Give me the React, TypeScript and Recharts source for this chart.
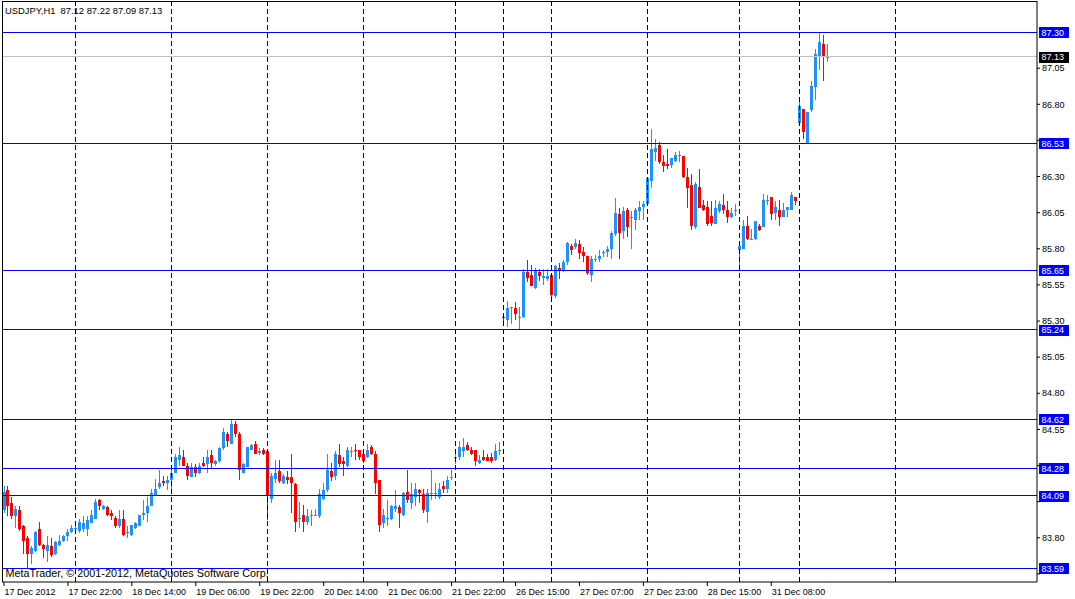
import React from 'react';
import { ComposedChart, Bar, XAxis, YAxis, ReferenceLine } from 'recharts';

// ---- data (USDJPY H1) ----
const opens = [
83.99,84.13,84.04,83.95,83.99,83.88,83.80,83.69,83.71,83.86,83.75,83.71,83.74,83.69,83.75,83.78,83.81,83.84,83.86,83.85,
83.86,83.86,83.90,83.93,84.06,84.00,84.01,83.97,83.94,83.88,83.93,83.83,83.82,83.87,83.88,83.96,83.97,84.02,84.09,84.15,
84.19,84.18,84.20,84.25,84.34,84.36,84.30,84.22,84.29,84.25,84.32,84.31,84.37,84.31,84.33,84.42,84.52,84.45,84.59,84.52,
84.25,84.29,84.41,84.45,84.39,84.41,84.40,84.07,84.21,84.26,84.18,84.22,84.22,84.17,83.93,83.96,83.91,83.95,83.95,83.95,
84.07,84.13,84.26,84.23,84.37,84.33,84.30,84.40,84.41,84.41,84.38,84.36,84.43,84.38,84.20,83.90,83.94,83.93,84.00,84.01,
83.96,84.12,84.04,84.08,84.13,84.10,83.98,84.10,84.10,84.08,84.16,84.14,84.22,84.36,84.36,84.40,84.44,84.41,84.41,84.32,
84.36,84.36,84.36,84.34,84.40,85.33,85.31,85.39,85.39,85.33,85.33,85.64,85.62,85.53,85.64,85.60,85.59,85.62,85.47,85.67,
85.65,85.71,85.82,85.81,85.83,85.78,85.75,85.62,85.72,85.73,85.77,85.78,85.80,85.90,86.04,85.92,86.07,86.01,86.00,86.06,
86.09,86.11,86.27,86.47,86.52,86.40,86.39,86.38,86.41,86.45,86.44,86.30,86.24,85.95,86.23,86.10,86.09,86.03,85.97,86.06,
86.10,86.07,86.02,86.06,85.79,85.80,85.96,85.86,85.87,85.96,85.95,86.13,86.16,86.05,86.07,86.02,86.07,86.07,86.16,86.67,
86.77,86.53,86.76,86.92,87.13,87.22,87.12];
const highs = [
84.16,84.16,84.08,84.02,84.02,83.89,83.81,83.74,83.85,83.91,83.76,83.81,83.80,83.78,83.82,83.82,83.86,83.89,83.90,83.93,
83.95,83.95,83.99,84.07,84.07,84.03,84.02,83.99,83.95,83.99,83.99,83.88,83.89,83.91,83.96,84.06,84.08,84.14,84.21,84.27,
84.23,84.23,84.27,84.38,84.43,84.41,84.32,84.32,84.31,84.32,84.36,84.41,84.41,84.34,84.43,84.56,84.53,84.62,84.61,84.53,
84.32,84.43,84.45,84.47,84.42,84.42,84.41,84.25,84.34,84.34,84.24,84.26,84.38,84.18,84.05,84.03,84.00,83.99,84.00,84.14,
84.18,84.38,84.32,84.40,84.45,84.36,84.43,84.43,84.45,84.41,84.41,84.45,84.44,84.40,84.20,84.00,84.06,84.03,84.13,84.03,
84.12,84.27,84.18,84.18,84.14,84.14,84.14,84.27,84.18,84.18,84.19,84.23,84.27,84.38,84.47,84.49,84.46,84.43,84.41,84.37,
84.41,84.38,84.39,84.45,84.46,85.35,85.44,85.40,85.43,85.40,85.66,85.72,85.69,85.67,85.66,85.66,85.66,85.62,85.69,85.70,
85.72,85.85,85.83,85.87,85.86,85.81,85.75,85.75,85.76,85.79,85.79,85.82,85.92,86.15,86.08,86.09,86.08,86.06,86.08,86.13,
86.13,86.29,86.63,86.56,86.54,86.45,86.49,86.43,86.47,86.48,86.44,86.36,86.32,86.26,86.35,86.14,86.13,86.13,86.14,86.13,
86.18,86.13,86.08,86.11,85.82,86.00,86.03,85.94,85.99,85.97,86.18,86.17,86.16,86.13,86.14,86.12,86.09,86.19,86.16,86.84,
86.77,86.75,86.96,87.18,87.30,87.28,87.22];
const lows = [
83.97,83.95,83.93,83.87,83.85,83.69,83.59,83.62,83.70,83.74,83.66,83.63,83.67,83.68,83.74,83.77,83.78,83.83,83.84,83.83,
83.84,83.81,83.90,83.93,83.99,83.99,83.95,83.92,83.87,83.87,83.81,83.80,83.81,83.86,83.88,83.92,83.91,84.02,84.09,84.14,
84.16,84.13,84.13,84.25,84.30,84.30,84.20,84.22,84.22,84.24,84.29,84.25,84.28,84.30,84.32,84.41,84.43,84.45,84.50,84.20,
84.25,84.29,84.41,84.38,84.37,84.37,83.92,84.04,84.18,84.18,84.17,84.17,83.97,83.84,83.87,83.84,83.89,83.88,83.95,83.94,
84.06,84.12,84.19,84.20,84.29,84.23,84.29,84.36,84.34,84.34,84.32,84.35,84.37,84.10,83.84,83.87,83.88,83.92,83.98,83.87,
83.95,84.04,84.00,84.02,84.04,83.97,83.90,84.06,84.07,84.07,84.11,84.11,84.20,84.31,84.34,84.36,84.40,84.37,84.30,84.31,
84.33,84.33,84.32,84.33,84.37,85.27,85.26,85.28,85.31,85.24,85.32,85.57,85.54,85.52,85.58,85.55,85.58,85.46,85.46,85.59,
85.64,85.69,85.76,85.80,85.73,85.71,85.62,85.57,85.71,85.71,85.74,85.74,85.73,85.89,85.73,85.87,85.88,85.80,85.93,86.00,
86.00,86.10,86.22,86.41,86.39,86.33,86.35,86.36,86.40,86.40,86.29,86.08,85.93,85.94,86.08,86.06,85.96,85.96,85.97,86.05,
86.04,85.98,86.01,86.03,85.65,85.80,85.86,85.86,85.86,85.92,85.95,86.10,86.00,86.00,85.96,86.02,86.02,86.07,86.10,86.67,
86.56,86.53,86.75,86.83,87.04,86.96,87.09];
const closes = [
84.12,84.02,83.95,84.00,83.86,83.78,83.69,83.73,83.84,83.75,83.72,83.75,83.68,83.77,83.78,83.81,83.84,83.87,83.87,83.91,
83.90,83.92,83.96,84.05,84.02,84.02,83.96,83.95,83.88,83.93,83.82,83.84,83.89,83.90,83.96,83.97,84.02,84.11,84.14,84.18,
84.18,84.20,84.25,84.36,84.37,84.30,84.23,84.29,84.25,84.30,84.30,84.36,84.32,84.33,84.42,84.53,84.47,84.59,84.52,84.27,
84.31,84.43,84.44,84.38,84.40,84.38,84.09,84.23,84.25,84.19,84.23,84.20,84.18,83.91,83.94,83.91,83.95,83.96,83.96,84.10,
84.13,84.27,84.22,84.38,84.31,84.31,84.41,84.40,84.40,84.36,84.33,84.41,84.38,84.18,83.89,83.96,83.94,84.02,84.02,83.97,
84.11,84.06,84.10,84.14,84.11,83.99,84.11,84.11,84.11,84.14,84.14,84.20,84.22,84.36,84.43,84.43,84.41,84.38,84.33,84.34,
84.34,84.33,84.33,84.40,84.41,85.32,85.39,85.40,85.35,85.33,85.64,85.60,85.54,85.65,85.61,85.61,85.61,85.48,85.68,85.65,
85.71,85.84,85.79,85.84,85.77,85.75,85.63,85.73,85.73,85.75,85.78,85.80,85.91,86.05,85.91,86.06,85.95,86.02,86.07,86.09,
86.11,86.29,86.49,86.50,86.40,86.37,86.37,86.43,86.45,86.45,86.30,86.22,85.96,86.25,86.08,86.07,85.97,85.98,86.08,86.11,
86.07,86.02,86.05,86.07,85.82,85.96,85.87,85.87,85.99,85.93,86.14,86.14,86.04,86.09,86.02,86.07,86.09,86.17,86.13,86.79,
86.61,86.75,86.93,87.15,87.23,87.13,87.13];

const TOTAL_SLOTS = 259; // bars + empty shift space on the right
const tickIdx = [0, 16, 32, 48, 64, 80, 96, 112, 128, 144, 160, 176, 192];
const tickLabels = ['17 Dec 2012', '17 Dec 22:00', '18 Dec 14:00', '19 Dec 06:00', '19 Dec 22:00', '20 Dec 14:00',
  '21 Dec 06:00', '21 Dec 22:00', '26 Dec 15:00', '27 Dec 07:00', '27 Dec 23:00', '28 Dec 15:00', '31 Dec 08:00'];
const separators = [18, 42, 66, 90, 113, 125, 137, 161, 184, 199, 223];
const priceTicks = [83.55, 83.80, 84.05, 84.30, 84.55, 84.80, 85.05, 85.30, 85.55, 85.80, 86.05, 86.30, 86.55, 86.80, 87.05];
const levels = [87.30, 86.53, 85.65, 85.24, 84.62, 84.28, 84.09, 83.59];
const bidPrice = 87.13;
const yDomain = [83.494, 87.515];

const data = Array.from({ length: TOTAL_SLOTS }, (_, i) => ({
  i,
  o: opens[i],
  h: highs[i],
  l: lows[i],
  c: closes[i],
}));

const FONT = '"Liberation Sans", Arial, sans-serif';
const BULL = '#1E90FF';
const BEAR = '#FF0000';

// price labels that sit under a level box are covered in the reference
const coveredByBox = (p: number) =>
  [...levels, bidPrice].some((lv) => Math.abs(lv - p) < 0.05);

const Candle = (props: any) => {
  const { x, y, width, height, payload } = props;
  if (!payload || payload.h == null || !isFinite(y) || !isFinite(height)) return null;
  const top = Math.min(y, y + height);
  const hpx = Math.abs(height);
  const { o, h, l, c } = payload;
  const span = h - l;
  const py = (p: number) => (span > 0 ? top + ((h - p) / span) * hpx : top);
  const cx = Math.round(x + width / 2) + 0.5;
  const up = c >= o;
  const col = up ? BULL : BEAR;
  const bTop = py(Math.max(o, c));
  const bBot = py(Math.min(o, c));
  return (
    <g shapeRendering="crispEdges">
      <line x1={cx} x2={cx} y1={top} y2={top + hpx} stroke={col} strokeWidth={1} />
      <rect x={cx - 1.5} y={bTop} width={3} height={Math.max(1, bBot - bTop)} fill={col} />
    </g>
  );
};

const XTick = (props: any) => {
  const { x, y, payload } = props;
  const k = tickIdx.indexOf(payload.value);
  if (k < 0) return null;
  return (
    <text x={x + 0.5} y={y} dy="0.75em" fontSize={9} fontFamily={FONT} fill="#000" textAnchor="start">
      {tickLabels[k]}
    </text>
  );
};

const YTick = (props: any) => {
  const { x, y, payload } = props;
  const v = Number(payload.value);
  if (coveredByBox(v)) return null;
  return (
    <text x={x} y={y + 3.2} fontSize={9} fontFamily={FONT} fill="#000" textAnchor="start">
      {v.toFixed(2)}
    </text>
  );
};

const LevelLabel = (props: any) => {
  const { viewBox, value, bg } = props;
  if (!viewBox) return null;
  const right = viewBox.x + viewBox.width;
  const vy = viewBox.y;
  return (
    <g>
      <rect x={right + 2} y={vy - 5} width={30} height={11} fill={bg} shapeRendering="crispEdges" />
      <text x={right + 4.5} y={vy + 3.5} fontSize={9} fontFamily={FONT} fill="#fff" textAnchor="start">
        {value}
      </text>
    </g>
  );
};

export default function App() {
  return (
    <div style={{ position: 'absolute', left: 0, top: 0, width: 1075, height: 599, background: '#fff' }}>
      <ComposedChart width={1075} height={599} data={data} margin={{ top: 1, right: 0, bottom: 0, left: 2 }}>
        <XAxis
          dataKey="i"
          type="category"
          ticks={tickIdx}
          interval={0}
          height={17}
          tickSize={4}
          tickMargin={2}
          axisLine={{ stroke: '#000' }}
          tickLine={{ stroke: '#000' }}
          tick={<XTick />}
        />
        <YAxis
          orientation="right"
          type="number"
          domain={yDomain}
          allowDataOverflow
          ticks={priceTicks}
          interval={0}
          width={38}
          tickSize={3}
          tickMargin={2}
          axisLine={{ stroke: '#000' }}
          tickLine={{ stroke: '#000' }}
          tick={<YTick />}
        />
        {separators.map((s) => (
          <ReferenceLine key={'s' + s} x={s} stroke="#000" strokeDasharray="5 3" shapeRendering="crispEdges" />
        ))}
        <ReferenceLine
          y={bidPrice}
          stroke="#C0C0C0"
          shapeRendering="crispEdges"
          label={<LevelLabel value={bidPrice.toFixed(2)} bg="#000" />}
        />
        {levels.map((lv) => (
          <ReferenceLine
            key={'l' + lv}
            y={lv}
            stroke="#0000FF"
            shapeRendering="crispEdges"
            label={<LevelLabel value={lv.toFixed(2)} bg="#0000FF" />}
          />
        ))}
        <Bar
          dataKey={(d: any) => (d.h == null ? null : [d.l, d.h])}
          barSize={3}
          shape={<Candle />}
          isAnimationActive={false}
        />
      </ComposedChart>
      <div
        style={{
          position: 'absolute', left: 2, top: 1, width: 1035, height: 581,
          borderLeft: '1px solid #000', borderTop: '1px solid #000', boxSizing: 'border-box', pointerEvents: 'none',
        }}
      />
      <div style={{ position: 'absolute', left: 5, top: 5.5, fontFamily: FONT, fontSize: 9.4, lineHeight: 1, color: '#000', whiteSpace: 'nowrap' }}>
        USDJPY,H1&nbsp;&nbsp;87.12 87.22 87.09 87.13
      </div>
      <div style={{ position: 'absolute', left: 5.5, top: 568, fontFamily: FONT, fontSize: 10.8, lineHeight: 1, color: '#000', whiteSpace: 'nowrap' }}>
        MetaTrader, © 2001-2012, MetaQuotes Software Corp.
      </div>
    </div>
  );
}
